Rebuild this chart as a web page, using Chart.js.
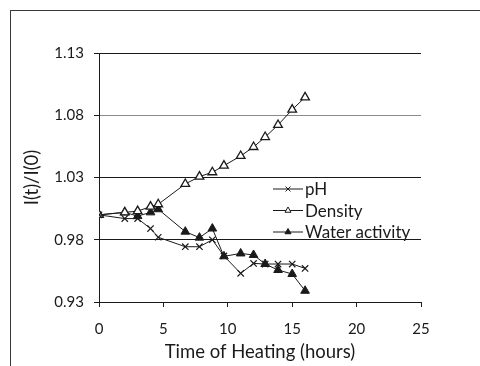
<!DOCTYPE html>
<html>
<head>
<meta charset="utf-8">
<script src="https://cdn.jsdelivr.net/npm/chart.js@4/dist/chart.umd.min.js"></script>
<style>
    html, body { margin: 0; padding: 0; background: #fff; }
    #wrap { position: relative; width: 480px; height: 366px; overflow: hidden; }
    #frame { position: absolute; left: 10px; top: 10px; width: 520px; height: 420px; border: 1px solid #3a3a3a; }
    canvas { position: absolute; left: 0; top: 0; }
</style>
</head>
<body>
<div id="wrap">
    <div id="frame"></div>
    <canvas id="chart" width="480" height="366"></canvas>
</div>
<script>
// Heating time (hours)
const hours = [0, 2, 3, 4, 4.6, 6.7, 7.8, 8.8, 9.7, 11, 12, 12.9, 13.9, 15, 16];

// I(t)/I(0) for each property
const phValues = [1.000, 0.997, 0.997, 0.989, 0.982, 0.9744, 0.9744, 0.980, 0.967, 0.953, 0.961, 0.9605, 0.9605, 0.9605, 0.957];
const densityValues = [1.000, 1.002, 1.003, 1.0066, 1.0085, 1.0248, 1.0307, 1.0342, 1.0395, 1.0473, 1.0545, 1.0625, 1.0722, 1.0845, 1.0944];
const waterValues = [1.000, 1.002, 0.999, 1.002, 1.0045, 0.9865, 0.9817, 0.989, 0.9667, 0.969, 0.9678, 0.9605, 0.9557, 0.9525, 0.939];

const yTicks = [0.93, 0.98, 1.03, 1.08, 1.13];
const xTicks = [0, 5, 10, 15, 20, 25];

const seriesLabels = ['pH', 'Density', 'Water activity'];

const FONT = 'Lato, "DejaVu Sans", sans-serif';
const INK = '#1a1a1a';

const toPoints = (values) => values.map((v, i) => ({ x: hours[i], y: v }));

// Legend drawn inside the plot, line - marker - line style
const insideLegend = {
    id: 'insideLegend',
    afterDatasetsDraw(chart) {
        const ctx = chart.ctx;
        ctx.save();
        ctx.font = '17px ' + FONT;
        ctx.textBaseline = 'middle';
        ctx.textAlign = 'left';
        chart.data.datasets.forEach((ds, i) => {
            const y = 189 + i * 21.5;
            ctx.strokeStyle = INK;
            ctx.lineWidth = 1;
            ctx.beginPath();
            ctx.moveTo(273, y);
            ctx.lineTo(303, y);
            ctx.stroke();
            ctx.fillStyle = ds.pointBackgroundColor;
            ctx.strokeStyle = INK;
            Chart.helpers.drawPoint(ctx, { pointStyle: ds.pointStyle, radius: 3.5, borderWidth: 1, rotation: 0 }, 288, y);
            ctx.fillStyle = INK;
            ctx.fillText(ds.label, 305, y + 1);
        });
        ctx.restore();
    }
};

new Chart(document.getElementById('chart'), {
    type: 'line',
    data: {
        datasets: [
            {
                label: seriesLabels[0],
                data: toPoints(phValues),
                borderColor: INK,
                borderWidth: 1,
                pointStyle: 'crossRot',
                pointRadius: 4.5,
                pointBorderColor: INK,
                pointBackgroundColor: INK,
                pointBorderWidth: 1.2,
                tension: 0
            },
            {
                label: seriesLabels[1],
                data: toPoints(densityValues),
                borderColor: INK,
                borderWidth: 1,
                pointStyle: 'triangle',
                pointRadius: 5,
                pointBorderColor: INK,
                pointBackgroundColor: '#fff',
                pointBorderWidth: 1.3,
                tension: 0
            },
            {
                label: seriesLabels[2],
                data: toPoints(waterValues),
                borderColor: INK,
                borderWidth: 1,
                pointStyle: 'triangle',
                pointRadius: 5,
                pointBorderColor: INK,
                pointBackgroundColor: INK,
                pointBorderWidth: 1,
                tension: 0
            }
        ]
    },
    options: {
        responsive: false,
        devicePixelRatio: 1,
        animation: false,
        layout: {
            padding: { top: 53, right: 59, left: 0, bottom: 0 }
        },
        plugins: {
            legend: { display: false },
            tooltip: { enabled: false }
        },
        scales: {
            x: {
                type: 'linear',
                min: 0,
                max: 25,
                afterBuildTicks: (scale) => { scale.ticks = xTicks.map(v => ({ value: v })); },
                afterFit: (scale) => { scale.height = 64; },
                grid: {
                    drawOnChartArea: false,
                    drawTicks: true,
                    tickLength: 5,
                    tickColor: INK
                },
                border: { color: INK, width: 1 },
                ticks: {
                    color: INK,
                    padding: 13,
                    font: { family: FONT, size: 15 }
                },
                title: {
                    display: true,
                    text: 'Time of Heating (hours)',
                    color: INK,
                    padding: { top: 0, bottom: 3 },
                    font: { family: FONT, size: 18.5 }
                }
            },
            y: {
                type: 'linear',
                min: 0.93,
                max: 1.13,
                afterBuildTicks: (scale) => { scale.ticks = yTicks.map(v => ({ value: v })); },
                afterFit: (scale) => { scale.width = 99; },
                grid: {
                    drawOnChartArea: true,
                    drawTicks: true,
                    tickLength: 5,
                    color: (c) => (c.tick && Math.abs(c.tick.value - 1.08) < 1e-6) ? '#8a8a8a' : INK,
                    tickColor: INK
                },
                border: { color: INK, width: 1 },
                ticks: {
                    color: INK,
                    padding: 10,
                    font: { family: FONT, size: 15 },
                    callback: (v) => Number(v).toFixed(2)
                },
                title: {
                    display: true,
                    text: 'I(t)/I(0)',
                    color: INK,
                    padding: { top: 21, bottom: 0 },
                    font: { family: FONT, size: 18.5 }
                }
            }
        }
    },
    plugins: [insideLegend]
});
</script>
</body>
</html>
